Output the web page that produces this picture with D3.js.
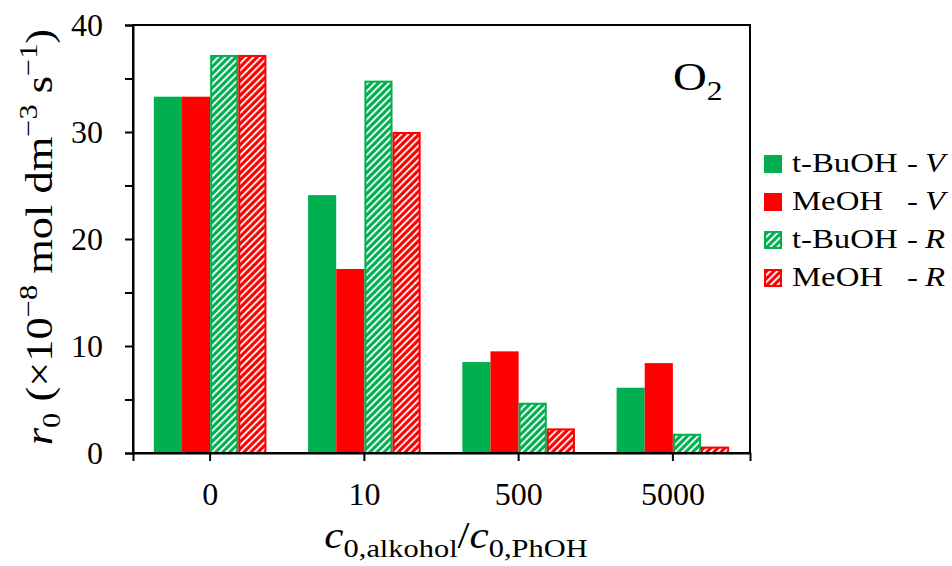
<!DOCTYPE html>
<html>
<head>
<meta charset="utf-8">
<script src="https://cdn.jsdelivr.net/npm/d3@7"></script>
<style>
  body { margin: 0; background: #fff; }
</style>
</head>
<body>
<div id="chart"></div>
<script>
// Chart data
const categories = ["0", "10", "500", "5000"];
const legendNames = ["t-BuOH", "MeOH", "t-BuOH", "MeOH"];
const legendSuffix = ["V", "V", "R", "R"];
const tBuOH_V = [33.3, 24.1, 8.5, 6.1];
const MeOH_V = [33.3, 17.2, 9.5, 8.4];
const tBuOH_R = [37.2, 34.8, 4.7, 1.8];
const MeOH_R = [37.2, 30.0, 2.3, 0.6];
const yTicks = [0, 10, 20, 30, 40];

const width = 952;
const height = 566;
const margin = { top: 25, right: 202, bottom: 113, left: 133 };
const font = "\"Liberation Serif\", \"Times New Roman\", serif";
const stretch = 1.17;

const series = [
  { key: "tv", values: tBuOH_V, color: "#00b050", hatched: false },
  { key: "mv", values: MeOH_V, color: "#ff0000", hatched: false },
  { key: "tr", values: tBuOH_R, color: "#00b050", hatched: true },
  { key: "mr", values: MeOH_R, color: "#ff0000", hatched: true }
];

const svg = d3.select("#chart").append("svg")
  .attr("width", width)
  .attr("height", height)
  .attr("font-family", font);

// Hatch patterns
const defs = svg.append("defs");
series.filter(s => s.hatched).forEach(s => {
  const p = defs.append("pattern")
    .attr("id", "hatch-" + s.key)
    .attr("patternUnits", "userSpaceOnUse")
    .attr("width", 5)
    .attr("height", 5)
    .attr("patternTransform", "rotate(45)");
  p.append("rect").attr("width", 5).attr("height", 5).attr("fill", s.color);
  p.append("rect").attr("x", 0).attr("width", 1.8).attr("height", 5).attr("fill", "#fff");
});

const x0 = d3.scaleBand()
  .domain(categories)
  .range([margin.left, width - margin.right])
  .paddingInner(0.27)
  .paddingOuter(0.135);

const x1 = d3.scaleBand()
  .domain(series.map(s => s.key))
  .range([0, x0.bandwidth()]);

const y = d3.scaleLinear()
  .domain([0, 40])
  .range([height - margin.bottom, margin.top]);

// Bars
const groups = svg.append("g")
  .selectAll("g")
  .data(categories)
  .join("g")
  .attr("transform", d => `translate(${x0(d)},0)`);

groups.selectAll("rect")
  .data((c, i) => series.map(s => ({ s, v: s.values[i] })))
  .join("rect")
  .attr("x", d => x1(d.s.key) + (d.s.hatched ? 1 : 0))
  .attr("width", d => x1.bandwidth() - (d.s.hatched ? 2 : 0))
  .attr("y", d => y(d.v) + (d.s.hatched ? 1 : 0))
  .attr("height", d => y(0) - y(d.v) - (d.s.hatched ? 1 : 0))
  .attr("fill", d => d.s.hatched ? `url(#hatch-${d.s.key})` : d.s.color)
  .attr("stroke", d => d.s.hatched ? d.s.color : "none")
  .attr("stroke-width", 2);

// Frame
svg.append("rect")
  .attr("x", margin.left)
  .attr("y", margin.top)
  .attr("width", width - margin.right - margin.left)
  .attr("height", height - margin.bottom - margin.top)
  .attr("fill", "none")
  .attr("stroke", "#000")
  .attr("stroke-width", 2);

// Y axis
const yAxis = svg.append("g")
  .attr("transform", `translate(${margin.left},0)`)
  .call(d3.axisLeft(y).tickValues(d3.range(0, 41, 5)).tickSize(8)
    .tickFormat(d => yTicks.includes(d) ? d : ""));
yAxis.attr("font-family", font);
yAxis.select(".domain").attr("stroke-width", 2);
yAxis.selectAll(".tick line").attr("stroke-width", 2);
yAxis.selectAll("text")
  .attr("font-size", 32)
  .attr("x", -30)
  .attr("dy", "0.33em");

// X axis
const xAxis = svg.append("g")
  .attr("transform", `translate(0,${height - margin.bottom})`)
  .call(d3.axisBottom(x0).tickSize(8));
xAxis.attr("font-family", font);
xAxis.select(".domain").attr("stroke-width", 2);
xAxis.selectAll(".tick line").attr("stroke-width", 2);
xAxis.selectAll("text")
  .attr("font-size", 32)
  .attr("y", 52)
  .attr("dy", 0);

// Y label
const yl = svg.append("text")
  .attr("transform", `translate(52,${(margin.top + height - margin.bottom) / 2 - 2}) rotate(-90) scale(${stretch},1)`)
  .attr("text-anchor", "middle")
  .attr("font-size", 38);
yl.append("tspan").attr("font-style", "italic").text("r");
yl.append("tspan").attr("font-size", 26).attr("dy", 8).text("0");
yl.append("tspan").attr("dy", -8).text(" (×10");
yl.append("tspan").attr("font-size", 26).attr("dy", -15).text("−8");
yl.append("tspan").attr("dy", 15).text(" mol dm");
yl.append("tspan").attr("font-size", 26).attr("dy", -15).text("−3");
yl.append("tspan").attr("dy", 15).text(" s");
yl.append("tspan").attr("font-size", 26).attr("dy", -15).text("−1");
yl.append("tspan").attr("dy", 15).text(")");

// X label
const xl = svg.append("text")
  .attr("transform", `translate(456,548) scale(${stretch},1)`)
  .attr("text-anchor", "middle")
  .attr("font-size", 37);
xl.append("tspan").attr("font-style", "italic").text("c");
xl.append("tspan").attr("font-size", 26).attr("dy", 9).text("0,alkohol");
xl.append("tspan").attr("dy", -9).text("/");
xl.append("tspan").attr("font-style", "italic").text("c");
xl.append("tspan").attr("font-size", 26).attr("dy", 9).text("0,PhOH");

// O2 label
const o2 = svg.append("text")
  .attr("transform", `translate(673,90) scale(${stretch},1)`)
  .attr("font-size", 40);
o2.append("tspan").text("O");
o2.append("tspan").attr("font-size", 27).attr("dy", 10).text("2");

// Legend
const legend = svg.append("g").attr("transform", "translate(764,155)");
const items = legend.selectAll("g")
  .data(series)
  .join("g")
  .attr("transform", (d, i) => `translate(0,${i * 38})`);
items.append("rect")
  .attr("x", d => d.hatched ? 1 : 0)
  .attr("y", d => d.hatched ? 1 : 0)
  .attr("width", d => d.hatched ? 16 : 18)
  .attr("height", d => d.hatched ? 16 : 18)
  .attr("fill", d => d.hatched ? `url(#hatch-${d.key})` : d.color)
  .attr("stroke", d => d.hatched ? d.color : "none")
  .attr("stroke-width", 2);
items.append("text")
  .attr("transform", `translate(28,17) scale(${stretch},1)`)
  .attr("font-size", 28)
  .text((d, i) => legendNames[i]);
items.append("text")
  .attr("transform", `translate(143,17) scale(${stretch},1)`)
  .attr("font-size", 28)
  .text("-");
items.append("text")
  .attr("transform", `translate(161,17) scale(${stretch},1)`)
  .attr("font-size", 28)
  .attr("font-style", "italic")
  .text((d, i) => legendSuffix[i]);
</script>
</body>
</html>
